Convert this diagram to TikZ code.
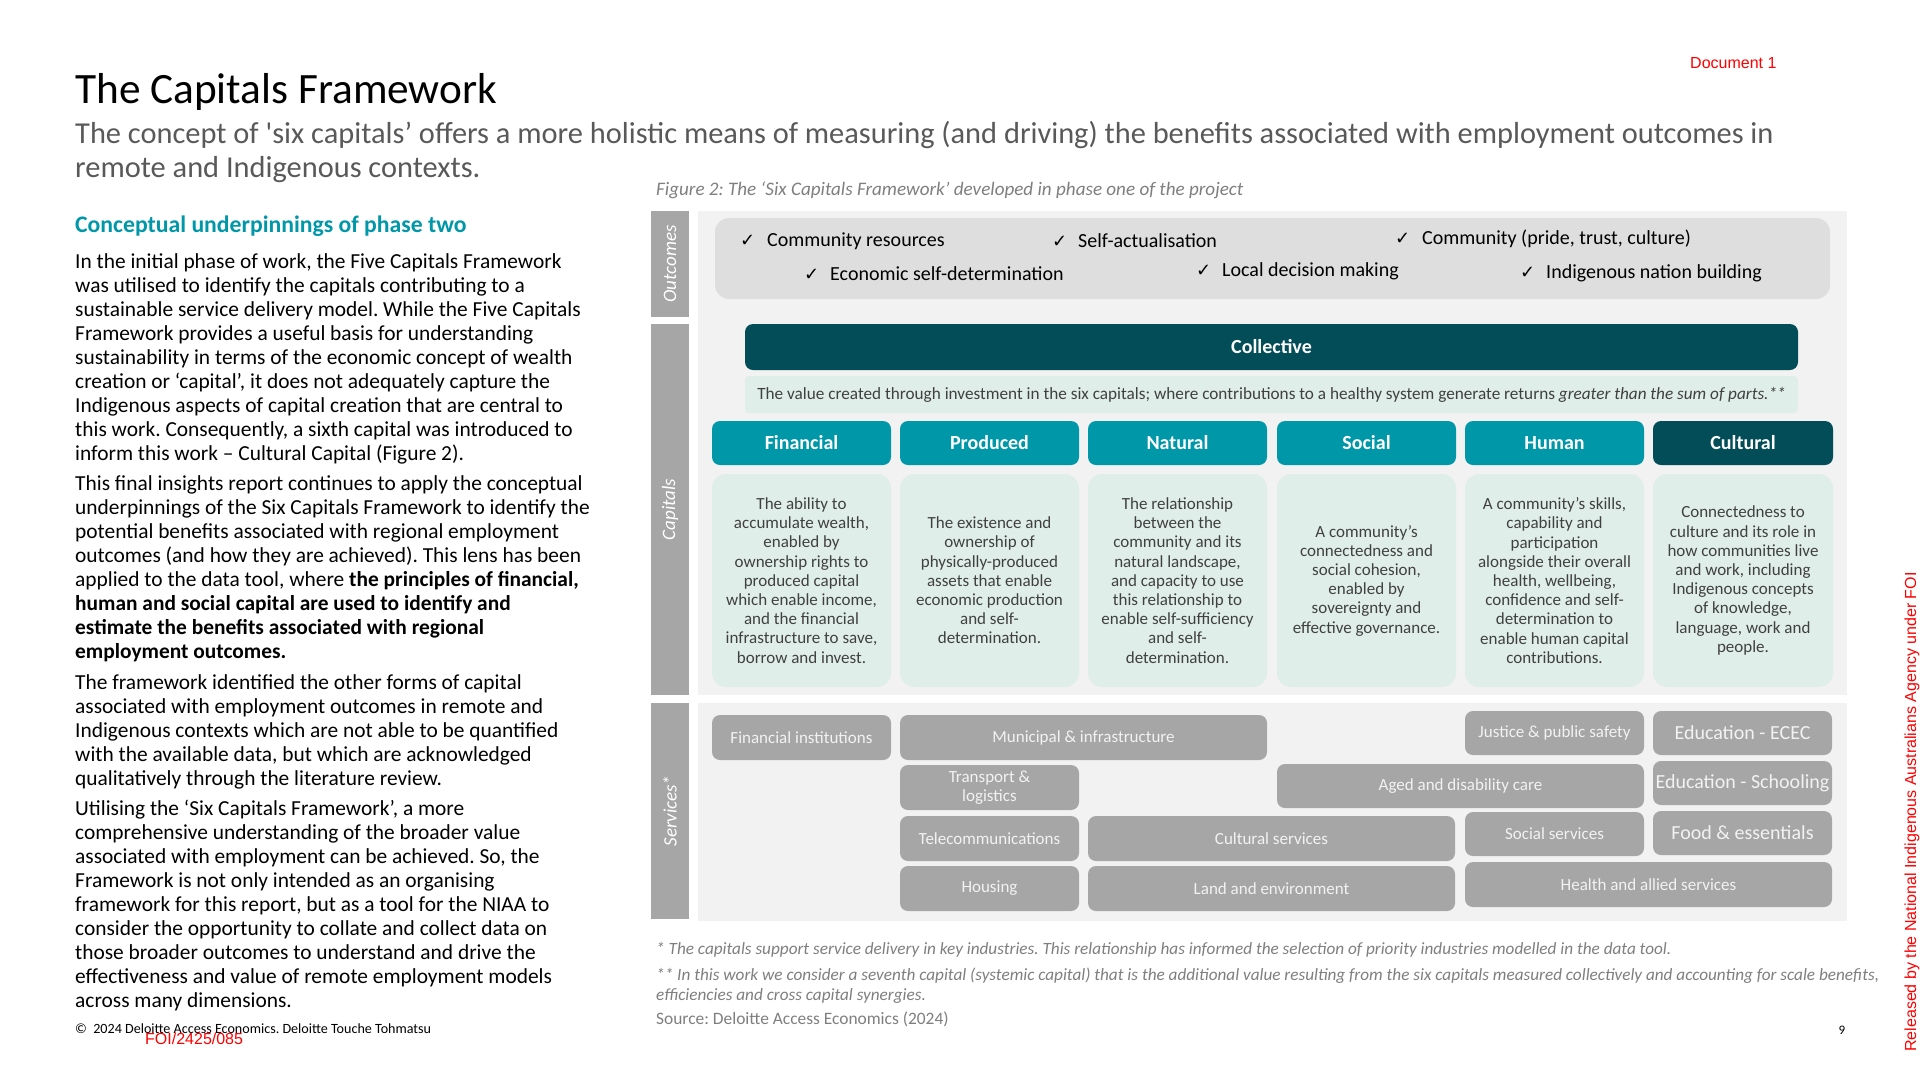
\documentclass[tikz,border=0pt]{standalone}
\usepackage{fontspec}
\setmainfont{Carlito}
\newfontfamily\arialf{Liberation Sans}
\newfontfamily\symf{DejaVu Sans}

\definecolor{darkteal}{HTML}{024D58}
\definecolor{tealh}{HTML}{0097A9}
\definecolor{mint}{HTML}{DFEEE9}
\definecolor{panelbg}{HTML}{F2F2F2}
\definecolor{outbg}{HTML}{DEDEDE}
\definecolor{barg}{HTML}{A6A6A6}
\definecolor{subg}{HTML}{595959}
\definecolor{capg}{HTML}{7F7F7F}
\definecolor{txtg}{HTML}{404040}
\definecolor{redw}{HTML}{FF0000}

\tikzset{
  box/.style={anchor=north west, inner sep=0pt, outer sep=0pt},
  sidebar/.style={box, fill=barg, minimum width=38pt},
  vlab/.style={rotate=90, inner sep=0pt, text=white, font=\fontsize{19}{22}\selectfont\itshape},
  hdr/.style={box, fill=tealh, rounded corners=8pt, text=white, font=\fontsize{20}{24}\selectfont\bfseries, minimum width=179pt, minimum height=44pt},
  desc/.style={box, fill=mint, rounded corners=14pt, text=txtg, align=center, font=\fontsize{17}{19.2}\selectfont, minimum width=179pt, minimum height=213pt},
  svc/.style={box, fill=barg, rounded corners=8pt, text=panelbg, align=center, font=\fontsize{17}{19}\selectfont},
  svcbig/.style={svc, font=\fontsize{20}{24}\selectfont},
  chk/.style={anchor=base west, inner sep=0pt, font=\symf\fontsize{18}{20}\selectfont},
  otxt/.style={anchor=base west, inner sep=0pt, font=\fontsize{20}{24}\selectfont},
  body/.style={anchor=base west, inner sep=0pt, font=\fontsize{21.4}{24}\selectfont},
  foot/.style={anchor=base west, inner sep=0pt, text=capg, font=\fontsize{17.2}{20}\selectfont\itshape},
}

\begin{document}
\frenchspacing
\begin{tikzpicture}[x=1pt, y=-1pt]
\useasboundingbox (0,0) rectangle (1920,1080);
\fill[white] (0,0) rectangle (1920,1080);

% ---------- header texts ----------
\node[anchor=base west, inner sep=0pt, font=\fontsize{43.3}{50}\selectfont] (title) at (75,103) {The Capitals Framework};
\node[anchor=base west, inner sep=0pt, text=subg, font=\fontsize{30.4}{34}\selectfont] (sub1) at (75,143) {The concept of \textquotesingle six capitals’ offers a more holistic means of measuring (and driving) the benefits associated with employment outcomes in};
\node[anchor=base west, inner sep=0pt, text=subg, font=\fontsize{30.4}{34}\selectfont] (sub2) at (75,177) {remote and Indigenous contexts.};
\node[anchor=base west, inner sep=0pt, text=redw, font=\arialf\fontsize{16}{19}\selectfont] (doc) at (1690,68) {Document 1};

% ---------- left column ----------
\node[anchor=base west, inner sep=0pt, text=tealh, font=\fontsize{23.7}{28}\selectfont\bfseries] (head) at (75,232) {Conceptual underpinnings of phase two};

\foreach \t [count=\i from 0] in {
 {In the initial phase of work, the Five Capitals Framework},
 {was utilised to identify the capitals contributing to a},
 {sustainable service delivery model. While the Five Capitals},
 {Framework provides a useful basis for understanding},
 {sustainability in terms of the economic concept of wealth},
 {creation or ‘capital’, it does not adequately capture the},
 {Indigenous aspects of capital creation that are central to},
 {this work. Consequently, a sixth capital was introduced to},
 {inform this work – Cultural Capital (Figure 2).}}
 \node[body] (pa\i) at (75,{268+24*\i}) {\t};

\foreach \t [count=\i from 0] in {
 {This final insights report continues to apply the conceptual},
 {underpinnings of the Six Capitals Framework to identify the},
 {potential benefits associated with regional employment},
 {outcomes (and how they are achieved). This lens has been},
 {applied to the data tool, where \textbf{the principles of financial,}},
 {\textbf{human and social capital are used to identify and}},
 {\textbf{estimate the benefits associated with regional}},
 {\textbf{employment outcomes.}}}
 \node[body] (pb\i) at (75,{490+24*\i}) {\t};

\foreach \t [count=\i from 0] in {
 {The framework identified the other forms of capital},
 {associated with employment outcomes in remote and},
 {Indigenous contexts which are not able to be quantified},
 {with the available data, but which are acknowledged},
 {qualitatively through the literature review.}}
 \node[body] (pc\i) at (75,{689+24*\i}) {\t};

\foreach \t [count=\i from 0] in {
 {Utilising the ‘Six Capitals Framework’, a more},
 {comprehensive understanding of the broader value},
 {associated with employment can be achieved. So, the},
 {Framework is not only intended as an organising},
 {framework for this report, but as a tool for the NIAA to},
 {consider the opportunity to collate and collect data on},
 {those broader outcomes to understand and drive the},
 {effectiveness and value of remote employment models},
 {across many dimensions.}}
 \node[body] (pd\i) at (75,{815+24*\i}) {\t};

\node[anchor=base west, inner sep=0pt, font=\fontsize{14.1}{17}\selectfont] (copy) at (75,1033) {©\ \ 2024 Deloitte Access Economics. Deloitte Touche Tohmatsu};
\node[anchor=base west, inner sep=0pt, text=redw, font=\arialf\fontsize{16}{19}\selectfont] (foi) at (145,1044) {FOI/2425/085};

% ---------- figure ----------
\node[anchor=base west, inner sep=0pt, text=capg, font=\fontsize{19.1}{22}\selectfont\itshape] (cap) at (656,195) {Figure 2: The ‘Six Capitals Framework’ developed in phase one of the project};

\node[box, fill=panelbg, minimum width=1149pt, minimum height=484pt] (bgtop) at (698,211) {};
\node[box, fill=panelbg, minimum width=1149pt, minimum height=218pt] (bgsvc) at (698,703) {};

\node[sidebar, minimum height=106pt] (barout) at (651,211) {};
\node[sidebar, minimum height=371pt] (barcap) at (651,324) {};
\node[sidebar, minimum height=216pt] (barsvc) at (651,703) {};
\node[vlab] (lout) at (barout.center) {Outcomes};
\node[vlab] (lcap) at (barcap.center) {Capitals};
\node[vlab] (lsvc) at (barsvc.center) {Services*};

% outcomes
\node[box, fill=outbg, rounded corners=14pt, minimum width=1115pt, minimum height=81pt] (outbox) at (715,218) {};
\node[chk] (k1) at (740,246) {✓};  \node[otxt] (o1) at (767,246) {Community resources};
\node[chk] (k2) at (1052,247) {✓}; \node[otxt] (o2) at (1078,247) {Self-actualisation};
\node[chk] (k3) at (1395,244) {✓}; \node[otxt] (o3) at (1422,244) {Community (pride, trust, culture)};
\node[chk] (k4) at (804,280) {✓};  \node[otxt] (o4) at (830,280) {Economic self-determination};
\node[chk] (k5) at (1196,276) {✓}; \node[otxt] (o5) at (1222,276) {Local decision making};
\node[chk] (k6) at (1520,278) {✓}; \node[otxt] (o6) at (1546,278) {Indigenous nation building};

% collective
\node[box, fill=darkteal, rounded corners=8pt, minimum width=1053pt, minimum height=46pt, text=white, font=\fontsize{20}{24}\selectfont\bfseries] (coll) at (745,324) {Collective};
\node[box, fill=mint, rounded corners=4pt, minimum width=1053pt, minimum height=37pt, text=txtg, font=\fontsize{17.2}{20}\selectfont] (val) at (745,376) {The value created through investment in the six capitals; where contributions to a healthy system generate returns \textit{greater than the sum of parts.**}};

% capital headers
\node[hdr] (hfin) at (712,421) {Financial};
\node[hdr] (hpro) at (900,421) {Produced};
\node[hdr] (hnat) at (1088,421) {Natural};
\node[hdr] (hsoc) at (1277,421) {Social};
\node[hdr] (hhum) at (1465,421) {Human};
\node[hdr, fill=darkteal, minimum width=180pt] (hcul) at (1653,421) {Cultural};

% descriptions
\node[desc] (dfin) at (712,474) {The ability to\\accumulate wealth,\\enabled by\\ownership rights to\\produced capital\\which enable income,\\and the financial\\infrastructure to save,\\borrow and invest.};
\node[desc] (dpro) at (900,474) {The existence and\\ownership of\\physically-produced\\assets that enable\\economic production\\and self-\\determination.};
\node[desc] (dnat) at (1088,474) {The relationship\\between the\\community and its\\natural landscape,\\and capacity to use\\this relationship to\\enable self-sufficiency\\and self-\\determination.};
\node[desc] (dsoc) at (1277,474) {A community’s\\connectedness and\\social cohesion,\\enabled by\\sovereignty and\\effective governance.};
\node[desc] (dhum) at (1465,474) {A community’s skills,\\capability and\\participation\\alongside their overall\\health, wellbeing,\\confidence and self-\\determination to\\enable human capital\\contributions.};
\node[desc, minimum width=180pt] (dcul) at (1653,474) {Connectedness to\\culture and its role in\\how communities live\\and work, including\\Indigenous concepts\\of knowledge,\\language, work and\\people.};

% services
\node[svc, minimum width=179pt, minimum height=45pt] (sfin) at (712,715) {Financial institutions};
\node[svc, minimum width=367pt, minimum height=45pt] (smun) at (900,715) {Municipal \& infrastructure};
\node[svc, minimum width=179pt, minimum height=44pt] (sjus) at (1465,711) {Justice \& public safety};
\node[svcbig, minimum width=179pt, minimum height=44pt] (sece) at (1653,711) {Education - ECEC};
\node[svc, minimum width=179pt, minimum height=45pt] (stra) at (900,765) {Transport \&\\logistics};
\node[svc, minimum width=367pt, minimum height=44pt] (sage) at (1277,764) {Aged and disability care};
\node[svcbig, minimum width=179pt, minimum height=44pt] (ssch) at (1653,761) {Education - Schooling};
\node[svc, minimum width=179pt, minimum height=45pt] (stel) at (900,816) {Telecommunications};
\node[svc, minimum width=367pt, minimum height=45pt] (scul) at (1088,816) {Cultural services};
\node[svc, minimum width=179pt, minimum height=44pt] (ssoc) at (1465,812) {Social services};
\node[svcbig, minimum width=179pt, minimum height=44pt] (sfoo) at (1653,811) {Food \& essentials};
\node[svc, minimum width=179pt, minimum height=45pt] (shou) at (900,866) {Housing};
\node[svc, minimum width=367pt, minimum height=45pt] (slan) at (1088,866) {Land and environment};
\node[svc, minimum width=367pt, minimum height=45pt] (shea) at (1465,862) {Health and allied services};

% footnotes
\node[foot] (f1) at (656,954) {* The capitals support service delivery in key industries. This relationship has informed the selection of priority industries modelled in the data tool.};
\node[foot] (f2) at (656,980) {** In this work we consider a seventh capital (systemic capital) that is the additional value resulting from the six capitals measured collectively and accounting for scale benefits,};
\node[foot] (f3) at (656,1000) {efficiencies and cross capital synergies.};
\node[anchor=base west, inner sep=0pt, text=capg, font=\fontsize{17.4}{20}\selectfont] (src) at (656,1024) {Source: Deloitte Access Economics (2024)};

\node[anchor=base, inner sep=0pt, font=\fontsize{13}{16}\selectfont] (pg) at (1842,1034) {9};
\node[rotate=90, inner sep=0pt, text=redw, font=\arialf\fontsize{16}{19}\selectfont] (wm) at (1912,812) {Released by the National Indigenous Australians Agency under FOI};
\end{tikzpicture}
\end{document}
